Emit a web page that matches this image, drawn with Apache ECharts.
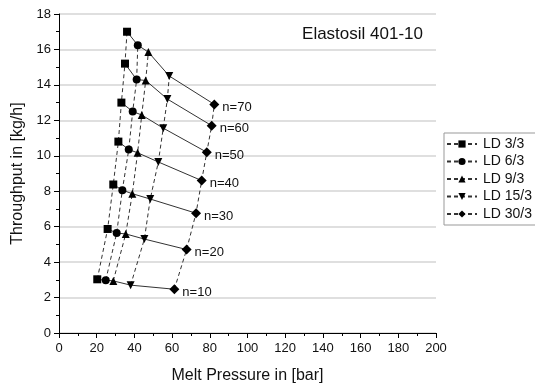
<!DOCTYPE html>
<html>
<head>
<meta charset="utf-8">
<script src="https://cdn.jsdelivr.net/npm/echarts@6/dist/echarts.min.js"></script>
<style>
  html, body { margin: 0; padding: 0; background: #fff; }
  #chart { width: 535px; height: 389px; }
</style>
</head>
<body>
<div id="chart"></div>
<script>
// screw speeds n = 10..70
var SPEEDS = [10, 20, 30, 40, 50, 60, 70];
var LD_NAMES = ['LD 3/3', 'LD 6/3', 'LD 9/3', 'LD 15/3', 'LD 30/3'];
var LD_SYMBOLS = ['rect', 'circle', 'triangle', 'triangle', 'diamond'];
var LD_ROTATE = [0, 0, 0, 180, 0];

// melt pressure [bar] per LD, for n = 10..70
var p_ld3 = [20.3, 25.8, 28.8, 31.5, 33.1, 35.0, 36.1];
var p_ld6 = [24.8, 30.6, 33.6, 37.0, 39.1, 41.2, 41.8];
var p_ld9 = [28.8, 35.4, 38.9, 41.7, 43.9, 46.0, 47.4];
var p_ld15 = [38.0, 45.3, 48.4, 52.7, 55.3, 57.5, 58.5];
var p_ld30 = [61.2, 67.7, 72.7, 75.7, 78.4, 81.0, 82.4];

// throughput [kg/h] per LD, for n = 10..70
var q_ld3 = [3.03, 5.87, 8.38, 10.8, 13.0, 15.2, 17.0];
var q_ld6 = [2.98, 5.64, 8.06, 10.35, 12.5, 14.3, 16.24];
var q_ld9 = [2.94, 5.59, 7.86, 10.17, 12.3, 14.25, 15.85];
var q_ld15 = [2.7, 5.3, 7.56, 9.65, 11.56, 13.2, 14.5];
var q_ld30 = [2.47, 4.71, 6.76, 8.6, 10.2, 11.7, 12.9];

var P = [p_ld3, p_ld6, p_ld9, p_ld15, p_ld30];
var Q = [q_ld3, q_ld6, q_ld9, q_ld15, q_ld30];

var FONT = 'Liberation Sans, Arial, sans-serif';

var series = [];
// solid lines: same screw speed across LD
SPEEDS.forEach(function (n, i) {
    var d = [];
    for (var k = 0; k < P.length; k++) d.push([P[k][i], Q[k][i]]);
    series.push({
        name: 'n=' + n,
        type: 'line',
        data: d,
        symbol: 'none',
        silent: true,
        z: 2,
        lineStyle: { color: '#333', width: 1 },
        endLabel: {
            show: true,
            formatter: 'n=' + n,
            distance: 8,
            offset: [0, 3],
            color: '#111',
            fontFamily: FONT,
            fontSize: 13
        }
    });
});
// dashed lines: same LD across screw speeds
LD_NAMES.forEach(function (name, k) {
    var d = [];
    for (var i = 0; i < SPEEDS.length; i++) d.push([P[k][i], Q[k][i]]);
    series.push({
        name: name,
        type: 'line',
        data: d,
        symbol: LD_SYMBOLS[k],
        symbolRotate: LD_ROTATE[k],
        symbolSize: k == 4 ? 10 : 8,
        z: 3,
        itemStyle: { color: '#000' },
        lineStyle: { color: '#333', width: 1, type: [4, 3] }
    });
});

var myChart = echarts.init(document.getElementById('chart'));
var option = {
    animation: false,
    backgroundColor: '#fff',
    title: {
        text: 'Elastosil 401-10',
        right: 107,
        top: 21,
        textStyle: { fontFamily: FONT, fontSize: 17, fontWeight: 'normal', color: '#111' }
    },
    legend: {
        data: LD_NAMES,
        orient: 'vertical',
        left: 444,
        top: 133,
        itemWidth: 30,
        itemHeight: 9,
        itemGap: 3.5,
        padding: [4, 4, 4, 2],
        borderColor: '#999',
        borderWidth: 1,
        backgroundColor: '#fff',
        textStyle: { fontFamily: FONT, fontSize: 14, color: '#111', padding: [0, 0, 0, 1] }
    },
    grid: { left: 59, right: 99, top: 14, bottom: 53, containLabel: false },
    xAxis: {
        type: 'value',
        min: 0, max: 200, interval: 20,
        name: 'Melt Pressure in [bar]',
        nameLocation: 'middle',
        nameGap: 35,
        nameTextStyle: { fontFamily: FONT, fontSize: 16, color: '#111' },
        axisLine: { lineStyle: { color: '#000' } },
        axisTick: { length: 5, lineStyle: { color: '#000' } },
        minorTick: { show: true, splitNumber: 2, length: 3, lineStyle: { color: '#000' } },
        axisLabel: { fontFamily: FONT, fontSize: 13, color: '#111', margin: 9 },
        splitLine: { show: false }
    },
    yAxis: {
        type: 'value',
        min: 0, max: 18, interval: 2,
        name: 'Throughput in [kg/h]',
        nameLocation: 'middle',
        nameGap: 32,
        nameTextStyle: { fontFamily: FONT, fontSize: 16, color: '#111' },
        axisLine: { show: true, lineStyle: { color: '#000' } },
        axisTick: { show: true, length: 5, lineStyle: { color: '#000' } },
        minorTick: { show: true, splitNumber: 2, length: 3, lineStyle: { color: '#000' } },
        axisLabel: { fontFamily: FONT, fontSize: 13, color: '#111', margin: 8 },
        splitLine: { show: true, lineStyle: { color: '#d4d4d4', width: 1.5 } }
    },
    series: series
};
myChart.setOption(option);
</script>
</body>
</html>
